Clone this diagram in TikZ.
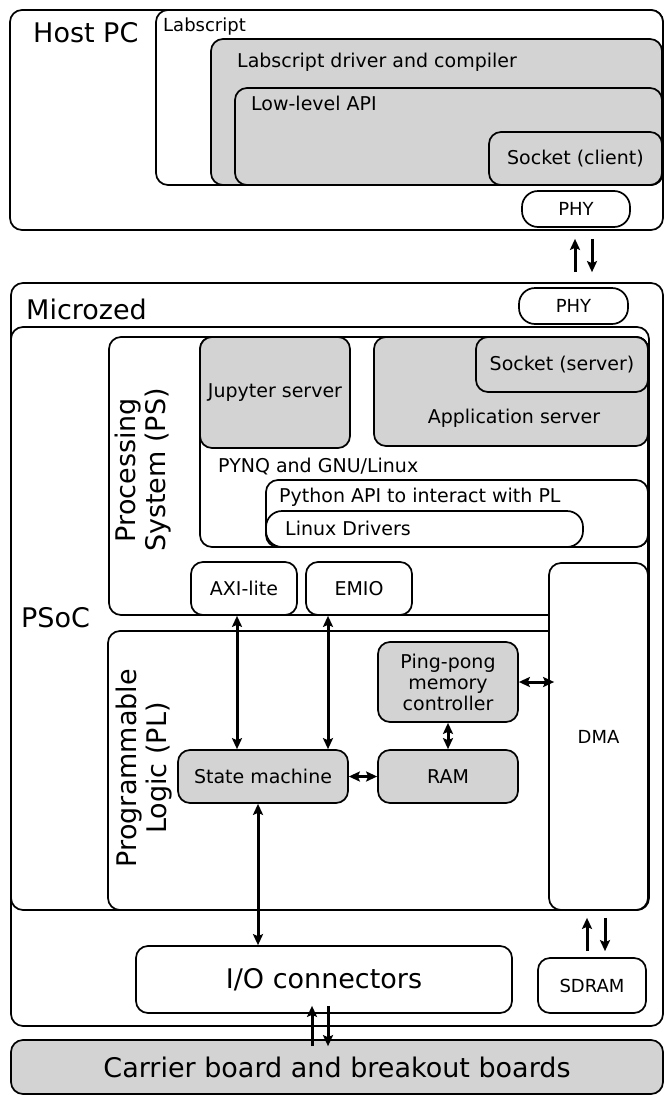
\documentclass[tikz,border=0pt]{standalone}
\usepackage{fontspec}
\setmainfont{DejaVu Sans}
\usetikzlibrary{
    arrows.meta,
    calc
}
\definecolor{boxgray}{RGB}{211,211,211}
\tikzset{
  box/.style={draw, fill=white, rounded corners=12pt, inner sep=0pt,
    line width=1.7pt, font=\fontsize{19}{21}\selectfont},
  shaded/.style={box, fill=boxgray},
  pill/.style={box, rounded corners=16pt},
  lbl/.style={inner sep=0pt, font=\fontsize{19}{21}\selectfont},
  big/.style={font=\fontsize{27}{30}\selectfont},
  small/.style={font=\fontsize{18}{20}\selectfont},
  tip/.tip={Stealth[length=11pt,width=10pt,inset=2pt]},
  arr/.style={line width=3pt, -tip},
  dbl/.style={line width=3pt, tip-tip}
}

\begin{document}
\begin{tikzpicture}[x=1pt, y=-1pt]
    \useasboundingbox (0,0) rectangle (667,1095);

    % Host PC
    \node[box, minimum width=653pt, minimum height=220pt] (host) at (336.5,120) {};
    \node[box, minimum width=507pt, minimum height=175pt] (labscript) at (409.5,97.5) {};
    \node[shaded, minimum width=451pt, minimum height=146pt] (driver) at (436.5,112) {};
    \node[shaded, minimum width=427pt, minimum height=97pt] (lowapi) at (448.5,136.5) {};
    \node[shaded, minimum width=173pt, minimum height=53pt] (sockc) at (575.5,158.5) {Socket (client)};
    \node[pill, small, minimum width=108pt, minimum height=36pt] (phyh) at (576,209) {PHY};

    \node[lbl, big, anchor=base west] (hostlbl) at (33,42) {Host PC};
    \node[lbl, small, anchor=base west] (lablbl) at (163,31) {Labscript};
    \node[lbl, anchor=base west] (drvlbl) at (237,67) {Labscript driver and compiler};
    \node[lbl, anchor=base west] (apilbl) at (251,110) {Low-level API};

    % Microzed
    \node[box, minimum width=652pt, minimum height=743pt] (micro) at (337,654.5) {};
    \node[pill, small, minimum width=109pt, minimum height=36pt] (phym) at (573.5,306) {PHY};
    \node[box, minimum width=638pt, minimum height=583pt] (psoc) at (330,618.5) {};
    \node[box, minimum width=539pt, minimum height=278pt] (ps) at (378.5,476) {};
    \node[box, minimum width=448pt, minimum height=210pt] (pynq) at (424,442) {};
    \node[shaded, minimum width=150pt, minimum height=111pt] (jupyter) at (275,392.5) {Jupyter server};
    \node[shaded, minimum width=274pt, minimum height=109pt] (appsrv) at (511,391.5) {};
    \node[shaded, minimum width=172pt, minimum height=55pt] (socks) at (562,364.5) {Socket (server)};
    \node[box, minimum width=382pt, minimum height=67pt] (pyapi) at (457,513.5) {};
    \node[pill, minimum width=317pt, minimum height=36pt] (drivers) at (424.5,529) {};
    \node[box, minimum width=106pt, minimum height=53pt] (axi) at (244,588.5) {AXI-lite};
    \node[box, minimum width=106pt, minimum height=53pt] (emio) at (359,588.5) {EMIO};
    \node[box, minimum width=540pt, minimum height=279pt] (pl) at (378,770.5) {};
    \node[shaded, minimum width=140pt, minimum height=80pt, align=center] (ping) at (448,682) {Ping-pong\\memory\\controller};
    \node[shaded, minimum width=140pt, minimum height=53pt] (ram) at (448,776.5) {RAM};
    \node[shaded, minimum width=170pt, minimum height=53pt] (sm) at (263,776.5) {State machine};
    \node[box, small, minimum width=99pt, minimum height=347pt] (dma) at (598.5,736.5) {DMA};
    \node[box, big, minimum width=376pt, minimum height=67pt] (io) at (324,979.5) {I/O connectors};
    \node[box, small, minimum width=108pt, minimum height=55pt] (sdram) at (592,985.5) {SDRAM};

    \node[lbl, big, anchor=base west] (microlbl) at (26,319) {Microzed};
    \node[lbl, big, anchor=base west] (psoclbl) at (21,627) {PSoC};
    \node[lbl, big, rotate=90, align=center] (pslbl) at (143,470) {Processing\\System (PS)};
    \node[lbl, big, rotate=90, align=center] (pllbl) at (144,768) {Programmable\\Logic (PL)};
    \node[lbl, anchor=base] (applbl) at (514,423) {Application server};
    \node[lbl, anchor=base west] (pynqlbl) at (218,472) {PYNQ and GNU/Linux};
    \node[lbl, anchor=base west] (pyapilbl) at (279,502) {Python API to interact with PL};
    \node[lbl, anchor=base west] (drvslbl) at (285,535) {Linux Drivers};

    % Carrier
    \node[shaded, big, minimum width=652pt, minimum height=54pt] (carrier) at (337,1067) {Carrier board and breakout boards};

    % Verbindungen
    \draw[arr, shorten <=15pt, shorten >=11pt] ([xshift=-1pt]phyh.south |- phym.north) -- ([xshift=-1pt]phyh.south);
    \draw[arr, shorten <=11pt, shorten >=15pt] ([xshift=16pt]phyh.south) -- ([xshift=16pt]phyh.south |- phym.north);
    \draw[dbl] ([xshift=-7pt]axi.south) -- ([xshift=-7pt]axi.south |- sm.north);
    \draw[dbl] ([xshift=-31pt]emio.south) -- ([xshift=-31pt]emio.south |- sm.north);
    \draw[dbl] (sm) -- (ram);
    \draw[dbl] (ping) -- (ram);
    \draw[dbl, shorten >=-6pt] (ping.east) -- (ping.east -| dma.west);
    \draw[dbl] ([xshift=-5pt]sm.south) -- ([xshift=-5pt]sm.south |- io.north);
    \draw[arr, shorten <=6pt, shorten >=7pt] ([xshift=-5pt]sdram.north) -- ([xshift=-5pt]sdram.north |- dma.south);
    \draw[arr, shorten <=7pt, shorten >=6pt] ([xshift=13pt]sdram.north |- dma.south) -- ([xshift=13pt]sdram.north);
    \draw[arr, shorten <=-7pt, shorten >=-8pt] ([xshift=-12pt]io.south |- carrier.north) -- ([xshift=-12pt]io.south);
    \draw[arr, shorten <=-8pt, shorten >=-7pt] ([xshift=4pt]io.south) -- ([xshift=4pt]io.south |- carrier.north);
\end{tikzpicture}
\end{document}
